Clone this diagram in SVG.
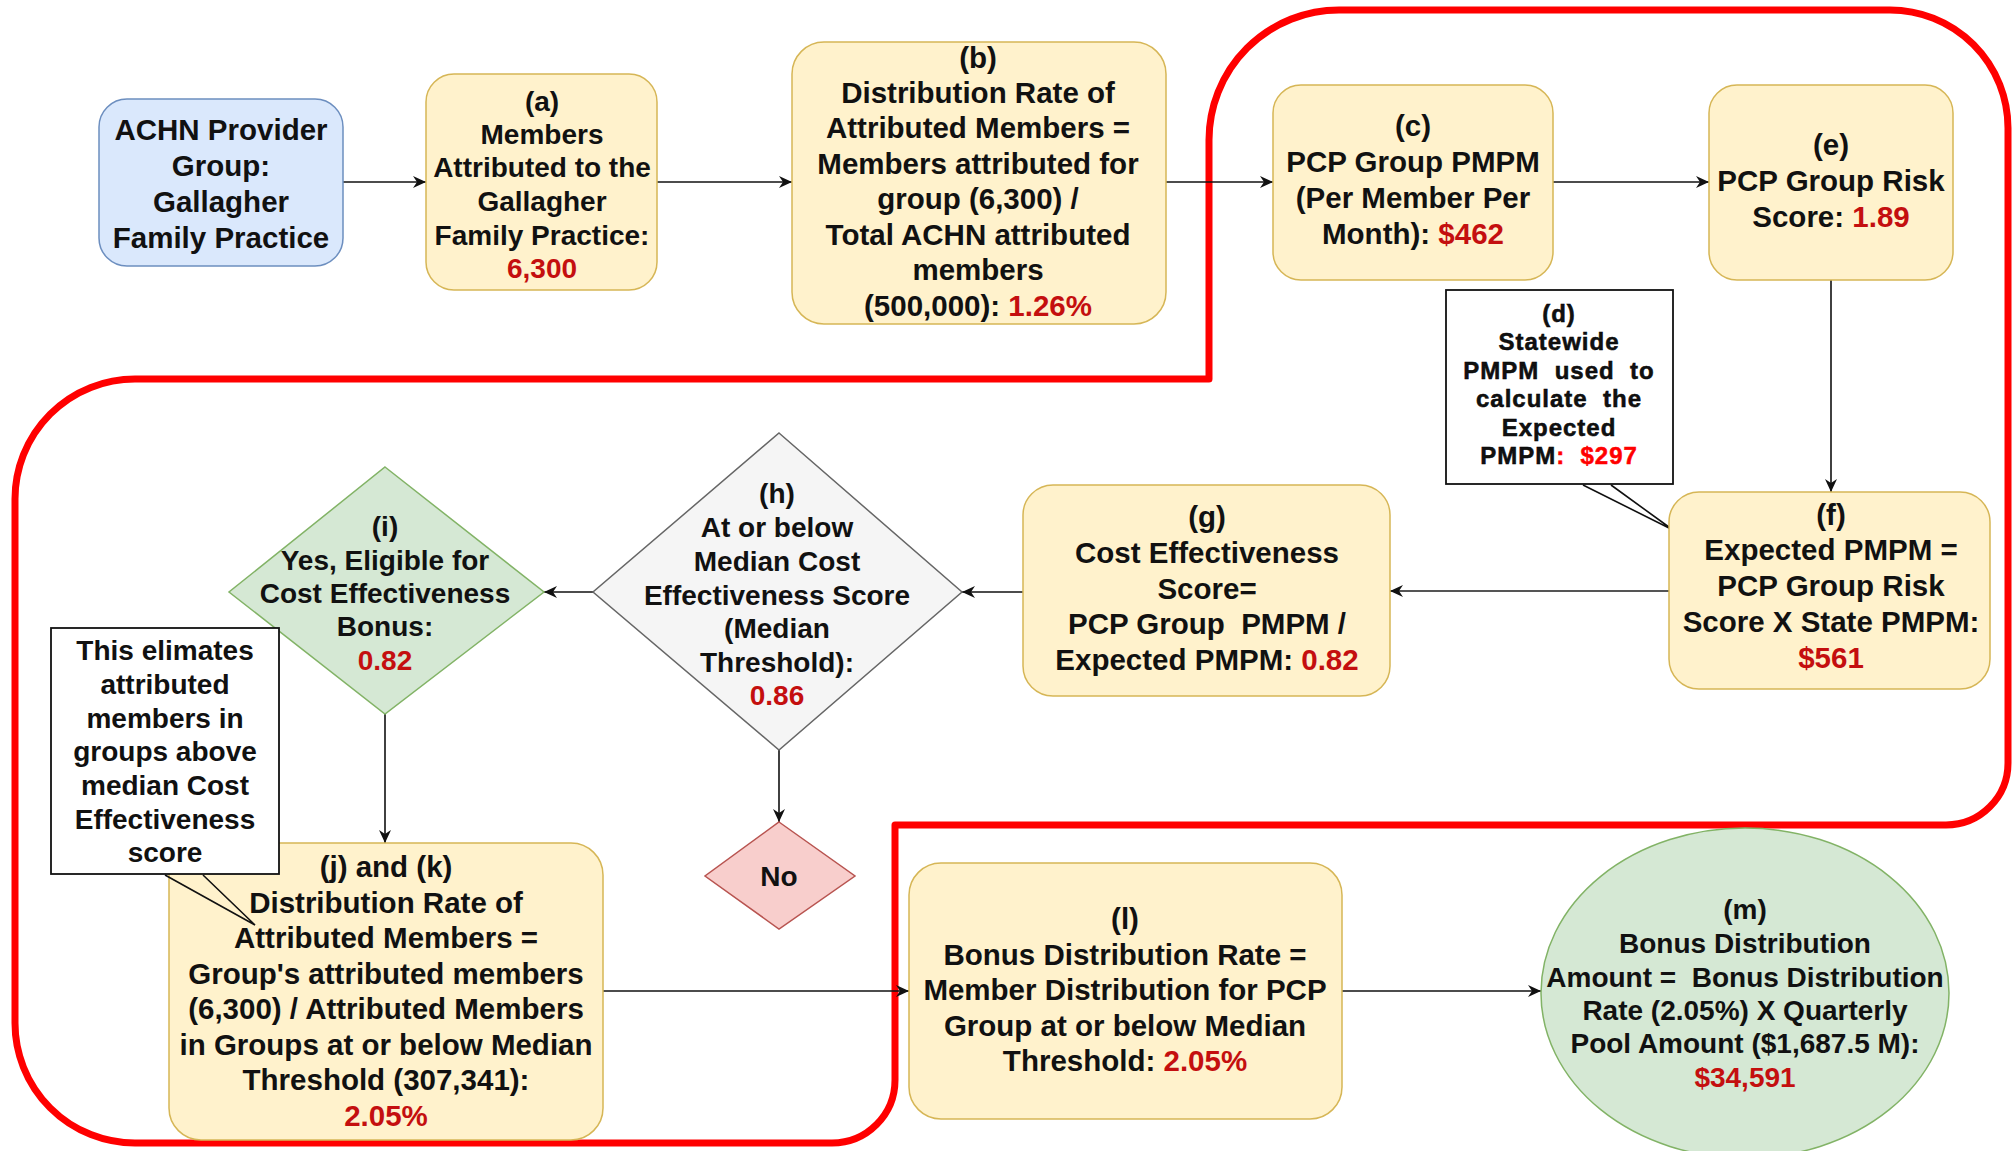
<svg xmlns="http://www.w3.org/2000/svg" width="2013" height="1151" viewBox="0 0 2013 1151">
<defs>
<style>
.t{font-family:"Liberation Sans",Arial,sans-serif;font-weight:bold;font-size:29.5px;text-anchor:middle;fill:#111}
.s28{font-size:28px}
.r{fill:#c40f0f}
.rr{fill:#ff0000}
.d{font-size:24px;letter-spacing:1px;stroke:#000;stroke-width:0.5}
.y{fill:#fff2cc;stroke:#d6b656;stroke-width:1.5}
.c{stroke:#111;stroke-width:1.6;fill:none;marker-end:url(#ah)}
.n{fill:#fff;stroke:#111;stroke-width:1.8}
.pre{white-space:pre}
</style>
<marker id="ah" markerUnits="userSpaceOnUse" markerWidth="14" markerHeight="12" refX="13" refY="6" orient="auto">
<path d="M0,0 L13,6 L0,12 L4,6 Z" fill="#111"/>
</marker>
</defs>
<rect width="2013" height="1151" fill="#fff"/>

<g id="region-border">
<path d="M135,379 L1209,379 L1209,140 A130,130 0 0 1 1339,10 L1890,10 A118,118 0 0 1 2008,128 L2008,763 A62,62 0 0 1 1946,825 L895,825 L895,1080 A63,63 0 0 1 832,1143 L135,1143 A120,120 0 0 1 15,1023 L15,499 A120,120 0 0 1 135,379 Z" fill="none" stroke="#ff0000" stroke-width="7" stroke-linejoin="round"/>
</g>

<g id="connectors">
<line class="c" x1="343" y1="182" x2="426" y2="182"/>
<line class="c" x1="657" y1="182" x2="792" y2="182"/>
<line class="c" x1="1166" y1="182" x2="1273" y2="182"/>
<line class="c" x1="1553" y1="182" x2="1709" y2="182"/>
<line class="c" x1="1831" y1="280" x2="1831" y2="492"/>
<line class="c" x1="1669" y1="591" x2="1390" y2="591" style="stroke:#555;stroke-width:2.2"/>
<line class="c" x1="1023" y1="592" x2="962" y2="592"/>
<line class="c" x1="593" y1="592" x2="544" y2="592"/>
<line class="c" x1="385" y1="714" x2="385" y2="843"/>
<line class="c" x1="779" y1="750" x2="779" y2="822"/>
<line class="c" x1="603" y1="991" x2="909" y2="991"/>
<line class="c" x1="1342" y1="991" x2="1541" y2="991"/>
</g>

<g id="achn">
<rect x="99" y="99" width="244" height="167" rx="28" fill="#dae8fc" stroke="#6c8ebf" stroke-width="1.5"/>
<text class="t"><tspan x="221" y="140">ACHN Provider</tspan><tspan x="221" y="176">Group:</tspan><tspan x="221" y="212">Gallagher</tspan><tspan x="221" y="248">Family Practice</tspan></text>
</g>

<g id="node-a">
<rect class="y" x="426" y="74" width="231" height="216" rx="28"/>
<text class="t s28"><tspan x="542" y="111">(a)</tspan><tspan x="542" y="144">Members</tspan><tspan x="542" y="177">Attributed to the</tspan><tspan x="542" y="211">Gallagher</tspan><tspan x="542" y="245">Family Practice:</tspan><tspan x="542" y="278" class="r">6,300</tspan></text>
</g>

<g id="node-b">
<rect class="y" x="792" y="42" width="374" height="282" rx="32"/>
<text class="t"><tspan x="978" y="68">(b)</tspan><tspan x="978" y="103">Distribution Rate of</tspan><tspan x="978" y="138">Attributed Members =</tspan><tspan x="978" y="174">Members attributed for</tspan><tspan x="978" y="209">group (6,300) /</tspan><tspan x="978" y="245">Total ACHN attributed</tspan><tspan x="978" y="280">members</tspan><tspan x="978" y="316">(500,000): <tspan class="r">1.26%</tspan></tspan></text>
</g>

<g id="node-c">
<rect class="y" x="1273" y="85" width="280" height="195" rx="28"/>
<text class="t"><tspan x="1413" y="136">(c)</tspan><tspan x="1413" y="172">PCP Group PMPM</tspan><tspan x="1413" y="208">(Per Member Per</tspan><tspan x="1413" y="244">Month): <tspan class="r">$462</tspan></tspan></text>
</g>

<g id="node-e">
<rect class="y" x="1709" y="85" width="244" height="195" rx="28"/>
<text class="t"><tspan x="1831" y="155">(e)</tspan><tspan x="1831" y="191">PCP Group Risk</tspan><tspan x="1831" y="227">Score: <tspan class="r">1.89</tspan></tspan></text>
</g>

<g id="node-d">
<rect class="n" x="1446" y="290" width="227" height="194"/>
<polyline points="1583,485 1673,530 1611,485" fill="none" stroke="#111" stroke-width="1.6"/>
<text class="t d pre"><tspan x="1559" y="322">(d)</tspan><tspan x="1559" y="350">Statewide</tspan><tspan x="1559" y="379">PMPM  used  to</tspan><tspan x="1559" y="407">calculate  the</tspan><tspan x="1559" y="436">Expected</tspan><tspan x="1559" y="464">PMPM<tspan class="rr" style="stroke:#ff0000">:  $297</tspan></tspan></text>
</g>

<g id="node-f">
<rect class="y" x="1669" y="492" width="321" height="197" rx="30"/>
<text class="t"><tspan x="1831" y="525">(f)</tspan><tspan x="1831" y="560">Expected PMPM =</tspan><tspan x="1831" y="596">PCP Group Risk</tspan><tspan x="1831" y="632">Score X State PMPM:</tspan><tspan x="1831" y="668" class="r">$561</tspan></text>
</g>

<g id="node-g">
<rect class="y" x="1023" y="485" width="367" height="211" rx="30"/>
<text class="t pre"><tspan x="1207" y="527">(g)</tspan><tspan x="1207" y="563">Cost Effectiveness</tspan><tspan x="1207" y="599">Score=</tspan><tspan x="1207" y="634">PCP Group  PMPM /</tspan><tspan x="1207" y="670">Expected PMPM: <tspan class="r">0.82</tspan></tspan></text>
</g>

<g id="node-h">
<polygon points="779,433 962,592 779,750 593,592" fill="#f5f5f5" stroke="#666" stroke-width="1.5"/>
<text class="t s28"><tspan x="777" y="503">(h)</tspan><tspan x="777" y="537">At or below</tspan><tspan x="777" y="571">Median Cost</tspan><tspan x="777" y="605">Effectiveness Score</tspan><tspan x="777" y="638">(Median</tspan><tspan x="777" y="672">Threshold):</tspan><tspan x="777" y="705" class="r">0.86</tspan></text>
</g>

<g id="node-i">
<polygon points="385,467 544,592 385,714 229,592" fill="#d5e8d4" stroke="#82b366" stroke-width="1.5"/>
<text class="t s28"><tspan x="385" y="536">(i)</tspan><tspan x="385" y="570">Yes, Eligible for</tspan><tspan x="385" y="603">Cost Effectiveness</tspan><tspan x="385" y="636">Bonus:</tspan><tspan x="385" y="670" class="r">0.82</tspan></text>
</g>

<g id="node-no">
<polygon points="779,822 855,876 779,929 705,876" fill="#f8cecc" stroke="#b85450" stroke-width="1.5"/>
<text class="t s28" x="779" y="886">No</text>
</g>

<g id="node-jk">
<rect class="y" x="169" y="843" width="434" height="297" rx="32"/>
<text class="t"><tspan x="386" y="877">(j) and (k)</tspan><tspan x="386" y="913">Distribution Rate of</tspan><tspan x="386" y="948">Attributed Members =</tspan><tspan x="386" y="984">Group's attributed members</tspan><tspan x="386" y="1019">(6,300) / Attributed Members</tspan><tspan x="386" y="1055">in Groups at or below Median</tspan><tspan x="386" y="1090">Threshold (307,341):</tspan><tspan x="386" y="1126" class="r">2.05%</tspan></text>
</g>

<g id="note">
<rect class="n" x="51" y="628" width="228" height="246"/>
<polyline points="165,875 255,925 203,875" fill="none" stroke="#111" stroke-width="1.6"/>
<text class="t s28"><tspan x="165" y="660">This elimates</tspan><tspan x="165" y="694">attributed</tspan><tspan x="165" y="728">members in</tspan><tspan x="165" y="761">groups above</tspan><tspan x="165" y="795">median Cost</tspan><tspan x="165" y="829">Effectiveness</tspan><tspan x="165" y="862">score</tspan></text>
</g>

<g id="node-l">
<rect class="y" x="909" y="863" width="433" height="256" rx="32"/>
<text class="t"><tspan x="1125" y="929">(l)</tspan><tspan x="1125" y="965">Bonus Distribution Rate =</tspan><tspan x="1125" y="1000">Member Distribution for PCP</tspan><tspan x="1125" y="1036">Group at or below Median</tspan><tspan x="1125" y="1071">Threshold: <tspan class="r">2.05%</tspan></tspan></text>
</g>

<g id="node-m">
<ellipse cx="1745" cy="993" rx="204" ry="165" fill="#d5e8d4" stroke="#82b366" stroke-width="1.5"/>
<text class="t s28 pre"><tspan x="1745" y="919">(m)</tspan><tspan x="1745" y="953">Bonus Distribution</tspan><tspan x="1745" y="987">Amount =  Bonus Distribution</tspan><tspan x="1745" y="1020">Rate (2.05%) X Quarterly</tspan><tspan x="1745" y="1053">Pool Amount ($1,687.5 M):</tspan><tspan x="1745" y="1087" class="r">$34,591</tspan></text>
</g>
</svg>
